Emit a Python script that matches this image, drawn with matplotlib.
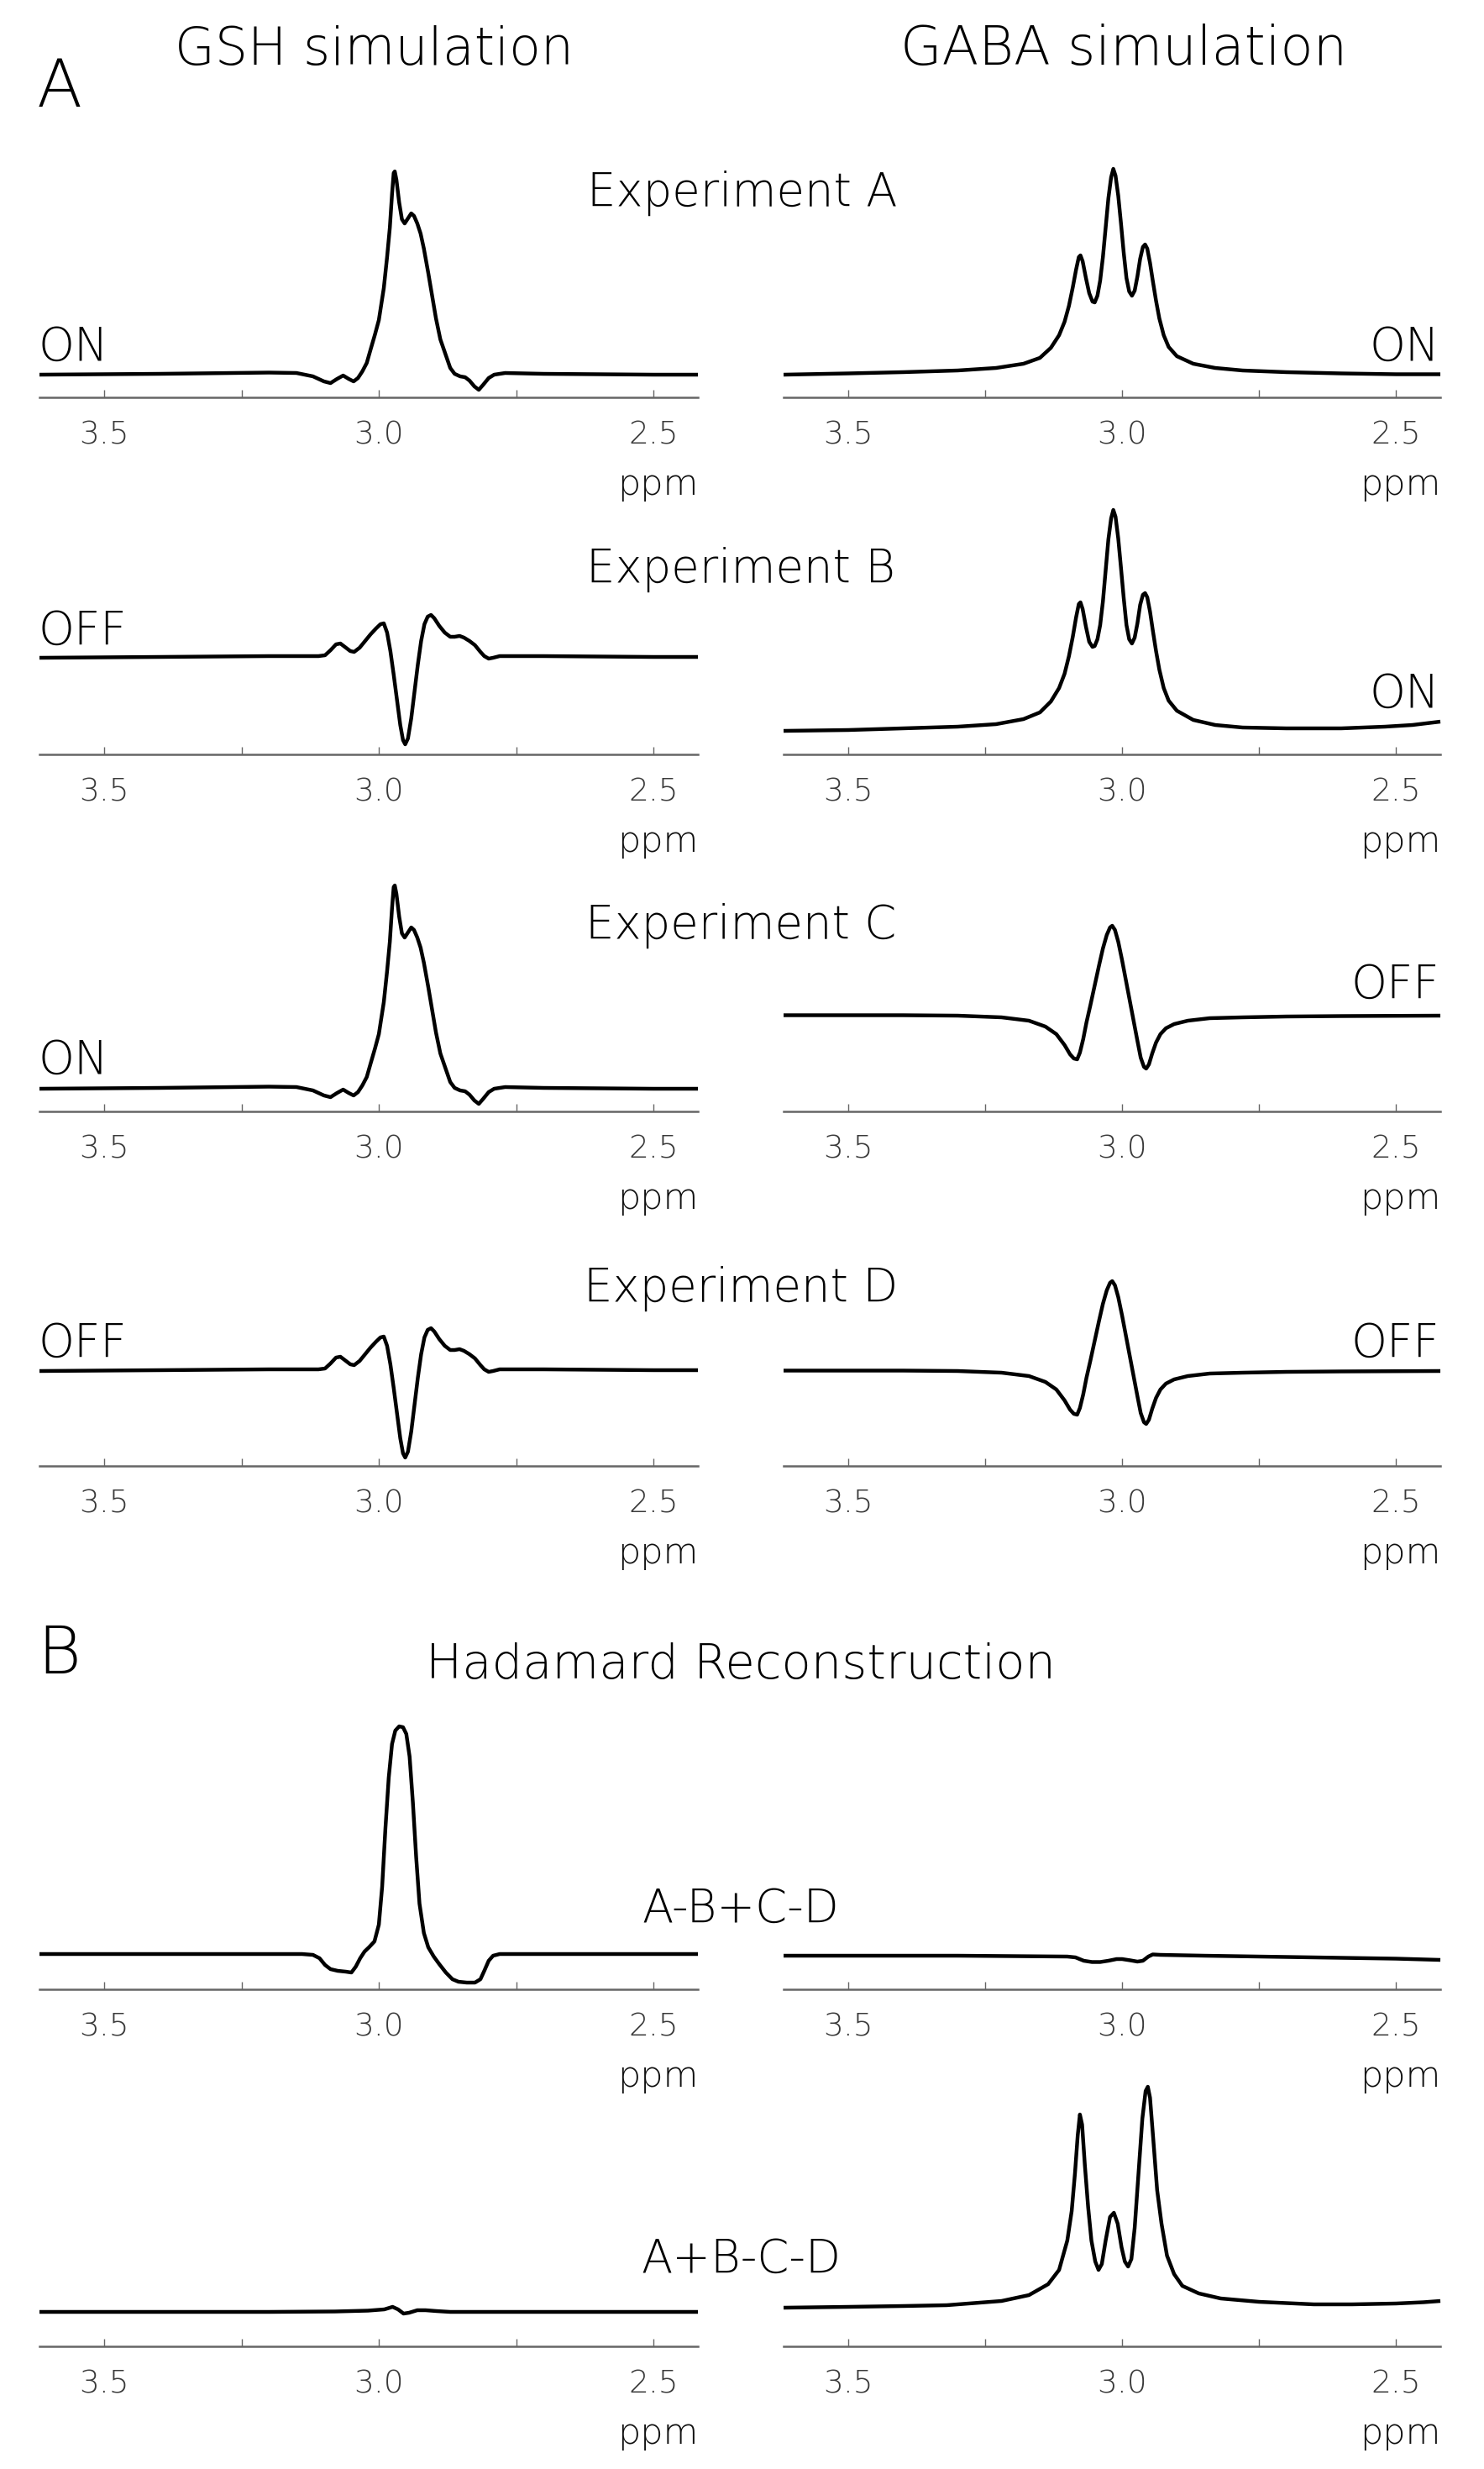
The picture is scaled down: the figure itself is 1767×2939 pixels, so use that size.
import numpy as np
import matplotlib
matplotlib.use("Agg")
import matplotlib.pyplot as plt
from matplotlib.ticker import FixedLocator, FixedFormatter

# ---------------- data (ppm, amplitude in arbitrary units) ----------------
gsh_on = [(3.618, 0), (3.40, 1), (3.20, 2.5), (3.15, 2), (3.12, -2), (3.10, -8), (3.088, -10),
          (3.076, -5), (3.065, -1), (3.055, -5), (3.046, -8), (3.038, -4), (3.030, 4), (3.022, 14),
          (3.015, 30), (3.007, 48), (3.000, 65), (2.991, 103), (2.985, 140), (2.980, 175),
          (2.976, 215), (2.973, 240), (2.971, 242), (2.968, 232), (2.963, 205), (2.958, 185),
          (2.953, 180), (2.947, 186), (2.941, 192), (2.936, 189), (2.930, 180), (2.924, 168),
          (2.918, 150), (2.910, 121), (2.903, 94), (2.896, 67), (2.888, 42), (2.879, 25),
          (2.870, 8), (2.862, 1), (2.852, -2), (2.843, -3), (2.835, -7), (2.826, -14),
          (2.818, -18), (2.810, -12), (2.800, -4), (2.790, 0), (2.770, 2), (2.70, 1),
          (2.50, 0), (2.419, 0)]

gsh_off = [(3.618, 0), (3.40, 1), (3.20, 2), (3.11, 2), (3.098, 3), (3.088, 9), (3.078, 16),
           (3.070, 17), (3.062, 13), (3.052, 8), (3.045, 7), (3.035, 12), (3.025, 20), (3.015, 28),
           (3.005, 35), (2.997, 40), (2.991, 41), (2.985, 30), (2.979, 8), (2.973, -20),
           (2.967, -50), (2.961, -80), (2.956, -98), (2.952, -103), (2.947, -96), (2.941, -72),
           (2.935, -40), (2.929, -8), (2.923, 20), (2.917, 40), (2.911, 49), (2.905, 51),
           (2.899, 47), (2.890, 38), (2.880, 30), (2.870, 25), (2.862, 25), (2.853, 26),
           (2.845, 24), (2.835, 20), (2.825, 15), (2.815, 7), (2.808, 2), (2.800, -1),
           (2.792, 0), (2.780, 2), (2.70, 2), (2.50, 1), (2.419, 1)]

gaba_on_a = [(3.618, 0), (3.50, 1.5), (3.40, 3), (3.30, 5), (3.23, 8), (3.18, 13), (3.15, 20),
             (3.13, 32), (3.115, 47), (3.105, 63), (3.097, 82), (3.090, 104), (3.084, 125),
             (3.079, 140), (3.076, 142), (3.072, 135), (3.066, 115), (3.060, 97), (3.054, 87),
             (3.050, 86), (3.045, 94), (3.040, 112), (3.035, 140), (3.030, 175), (3.025, 210),
             (3.020, 235), (3.016, 245), (3.012, 237), (3.007, 213), (3.002, 180), (2.997, 145),
             (2.992, 115), (2.987, 99), (2.982, 94), (2.977, 100), (2.972, 117), (2.967, 138),
             (2.962, 152), (2.958, 155), (2.954, 150), (2.949, 133), (2.944, 112), (2.938, 88),
             (2.932, 67), (2.924, 47), (2.915, 33), (2.90, 22), (2.87, 13), (2.83, 8),
             (2.78, 5), (2.70, 3), (2.60, 1.5), (2.50, 0.5), (2.419, 0.5)]

gaba_on_b = [(3.618, -1), (3.50, 0), (3.40, 2), (3.30, 4), (3.23, 7), (3.18, 13), (3.15, 21),
             (3.13, 34), (3.115, 50), (3.105, 67), (3.097, 88), (3.090, 111), (3.084, 134),
             (3.079, 150), (3.076, 152), (3.072, 144), (3.066, 123), (3.060, 105), (3.054, 99),
             (3.050, 100), (3.045, 108), (3.040, 125), (3.035, 153), (3.030, 190), (3.025, 227),
             (3.020, 252), (3.016, 262), (3.012, 254), (3.007, 228), (3.002, 193), (2.997, 157),
             (2.992, 125), (2.987, 108), (2.982, 103), (2.977, 110), (2.972, 127), (2.967, 149),
             (2.962, 161), (2.958, 163), (2.954, 158), (2.949, 141), (2.944, 119), (2.938, 94),
             (2.932, 72), (2.924, 50), (2.915, 35), (2.90, 23), (2.87, 12), (2.83, 6),
             (2.78, 3), (2.70, 2), (2.60, 2), (2.52, 4), (2.47, 6), (2.419, 10)]

gaba_off = [(3.618, 0.5), (3.40, 0.5), (3.30, 0), (3.22, -2), (3.17, -6), (3.14, -13), (3.12, -22),
            (3.105, -35), (3.095, -46), (3.088, -51), (3.082, -52), (3.077, -44), (3.071, -28),
            (3.065, -8), (3.058, 12), (3.050, 36), (3.042, 60), (3.035, 80), (3.028, 96),
            (3.022, 105), (3.018, 107), (3.013, 102), (3.007, 88), (3.000, 66), (2.993, 42),
            (2.986, 18), (2.979, -6), (2.972, -30), (2.966, -50), (2.960, -61), (2.956, -63),
            (2.951, -58), (2.945, -45), (2.938, -32), (2.930, -22), (2.920, -15), (2.905, -10),
            (2.88, -6), (2.84, -3), (2.78, -2), (2.70, -1), (2.60, -0.5), (2.419, 0)]

gsh_diff = [(3.618, 0), (3.30, 0), (3.14, 0), (3.12, -1), (3.108, -5), (3.098, -13), (3.088, -18),
            (3.075, -20), (3.060, -21), (3.050, -22), (3.042, -15), (3.034, -5), (3.026, 3),
            (3.018, 8), (3.008, 15), (3.000, 35), (2.994, 80), (2.988, 150), (2.982, 210),
            (2.976, 250), (2.970, 266), (2.963, 271), (2.956, 270), (2.950, 262), (2.944, 235),
            (2.938, 180), (2.932, 115), (2.926, 60), (2.918, 25), (2.910, 8), (2.900, -3),
            (2.890, -12), (2.878, -22), (2.866, -30), (2.855, -33), (2.840, -34), (2.825, -34),
            (2.815, -30), (2.808, -20), (2.800, -8), (2.792, -2), (2.780, 0), (2.60, 0),
            (2.419, 0)]

gsh_sum = [(3.618, 0), (3.20, 0), (3.08, 0.5), (3.02, 1.5), (2.99, 3), (2.975, 6), (2.965, 3),
           (2.955, -2), (2.945, -1), (2.930, 2), (2.915, 2), (2.895, 1), (2.87, 0), (2.419, 0)]

gaba_diff = [(3.618, 0), (3.30, 0), (3.20, -0.5), (3.10, -1), (3.085, -2), (3.070, -6),
             (3.055, -7.5), (3.040, -7.5), (3.025, -6), (3.010, -4), (3.000, -4), (2.985, -5.5),
             (2.972, -7), (2.962, -6), (2.952, -1), (2.944, 1.5), (2.93, 1), (2.85, 0),
             (2.75, -1), (2.60, -2.5), (2.50, -3.5), (2.419, -5)]

gaba_sum = [(3.618, 0), (3.50, 1), (3.40, 2), (3.32, 3), (3.22, 8), (3.17, 15), (3.135, 28),
            (3.115, 45), (3.100, 80), (3.092, 115), (3.086, 160), (3.081, 205), (3.077, 230),
            (3.073, 218), (3.068, 170), (3.062, 120), (3.056, 80), (3.049, 55), (3.043, 45),
            (3.037, 52), (3.030, 80), (3.022, 108), (3.015, 113), (3.008, 100), (3.001, 72),
            (2.995, 55), (2.989, 49), (2.983, 58), (2.977, 95), (2.970, 160), (2.963, 225),
            (2.957, 258), (2.953, 263), (2.949, 250), (2.943, 200), (2.936, 140), (2.928, 100),
            (2.918, 62), (2.905, 40), (2.890, 26), (2.86, 17), (2.82, 11), (2.75, 7),
            (2.65, 4), (2.58, 4), (2.50, 5), (2.45, 6.5), (2.419, 8)]

column_titles = ["GSH simulation", "GABA simulation"]
row_titles = ["Experiment A", "Experiment B", "Experiment C", "Experiment D",
              "A-B+C-D", "A+B-C-D"]
left_states = ["ON", "OFF", "ON", "OFF", "", ""]
right_states = ["ON", "ON", "OFF", "OFF", "", ""]
major_ticks = [3.5, 3.0, 2.5]
major_labels = ["3.5", "3.0", "2.5"]
minor_ticks = [3.25, 2.75]
x_range = (3.618, 2.419)

left_curves = [gsh_on, gsh_off, gsh_on, gsh_off, gsh_diff, gsh_sum]
right_curves = [gaba_on_a, gaba_on_b, gaba_off, gaba_off, gaba_diff, gaba_sum]

# ---------------- layout (pixels) ----------------
W, H = 1767, 2939
fig = plt.figure(figsize=(W / 100, H / 100), dpi=100)
fig.patch.set_facecolor("white")

FONT = ["DejaVu Sans"]
WEIGHT = 200


def X(x):
    return x / W


def Y(y):
    return 1 - y / H


axis_y = [473, 898, 1323, 1745, 2368, 2793]
left_off = [27, 115, 27, 113, 42, 41]
right_off = [27, 29, 114, 113, 40, 46]
panel_h = 420
lx0, lx1 = 47, 831
rx0, rx1 = 933, 1715

renderer = fig.canvas.get_renderer()


def fit(t, target_w):
    w = t.get_window_extent(renderer).width
    t.set_fontsize(t.get_fontsize() * target_w / w)
    return t.get_fontsize()


def make_panel(x0, x1, ay, off, curve):
    ax = fig.add_axes([X(x0), Y(ay), (x1 - x0) / W, panel_h / H])
    ax.set_facecolor("none")
    pts = np.array(curve)
    ax.plot(pts[:, 0], pts[:, 1], color="black", lw=3.2, solid_joinstyle="round",
            solid_capstyle="butt", clip_on=False)
    ax.set_xlim(*x_range)
    ax.set_ylim(-off, panel_h - off)
    for s in ["top", "left", "right"]:
        ax.spines[s].set_visible(False)
    ax.spines["bottom"].set_color("#666666")
    ax.spines["bottom"].set_linewidth(1.8)
    ax.set_yticks([])
    ax.xaxis.set_major_locator(FixedLocator(major_ticks))
    ax.xaxis.set_major_formatter(FixedFormatter(major_labels))
    ax.xaxis.set_minor_locator(FixedLocator(minor_ticks))
    ax.tick_params(axis="x", which="both", direction="in", length=6.5, width=1.0,
                   color="#666666", labelcolor="#3a3a3a", labelsize=27, pad=20)
    for lab in ax.get_xticklabels():
        lab.set_family(FONT)
        lab.set_fontweight(WEIGHT)
    fig.text(X(x1), Y(ay + 116), "ppm", ha="right", va="baseline", fontsize=31,
             color="#111111", family=FONT, fontweight=WEIGHT)
    return ax


for i in range(6):
    make_panel(lx0, lx1, axis_y[i], left_off[i], left_curves[i])
    make_panel(rx0, rx1, axis_y[i], right_off[i], right_curves[i])

# ---------------- texts ----------------
t = fig.text(X(445), Y(77), column_titles[0], ha="center", va="baseline", fontsize=40,
             family=FONT, fontweight=WEIGHT)
fit(t, 475)
t = fig.text(X(1338), Y(77), column_titles[1], ha="center", va="baseline", fontsize=40,
             family=FONT, fontweight=WEIGHT)
fit(t, 532)

fig.text(X(44), Y(127), "A", ha="left", va="baseline", fontsize=57, family=FONT,
         fontweight=WEIGHT)
fig.text(X(44), Y(1992), "B", ha="left", va="baseline", fontsize=57, family=FONT,
         fontweight=WEIGHT)

t = fig.text(X(882), Y(1998), "Hadamard Reconstruction", ha="center", va="baseline",
             fontsize=36, family=FONT, fontweight=WEIGHT)
fit(t, 750)

row_baselines = [245, 693, 1117, 1549, 2288, 2705]
t0 = fig.text(X(884), Y(row_baselines[0]), row_titles[0], ha="center", va="baseline",
              fontsize=36, family=FONT, fontweight=WEIGHT)
lab_size = fit(t0, 370)
for i in range(1, 6):
    fig.text(X(882), Y(row_baselines[i]), row_titles[i], ha="center", va="baseline",
             fontsize=lab_size, family=FONT, fontweight=WEIGHT)

left_state_y = [429, 767, 1278, 1615]
right_state_y = [429, 842, 1188, 1615]
for i in range(4):
    fig.text(X(45), Y(left_state_y[i]), left_states[i], ha="left", va="baseline",
             fontsize=lab_size, family=FONT, fontweight=WEIGHT)
    fig.text(X(1714), Y(right_state_y[i]), right_states[i], ha="right", va="baseline",
             fontsize=lab_size, family=FONT, fontweight=WEIGHT)

fig.savefig("out.png", dpi=100, facecolor="white")
